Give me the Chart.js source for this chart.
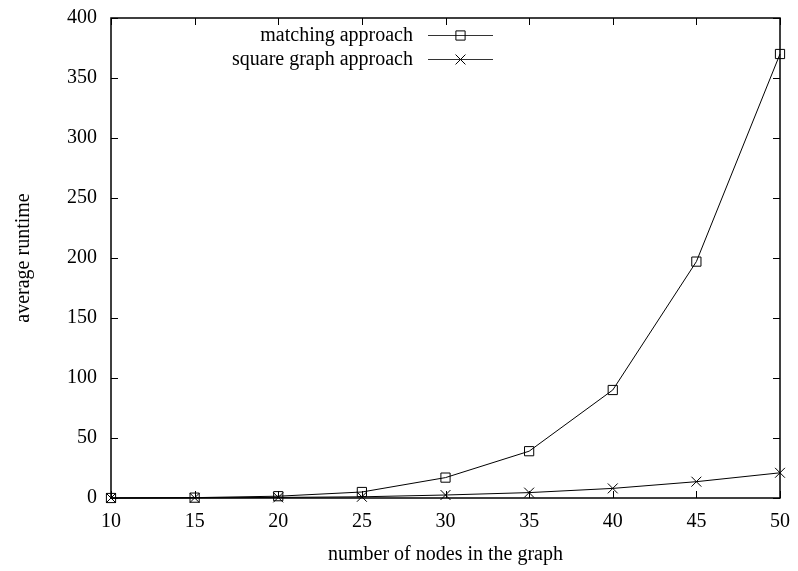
<!DOCTYPE html>
<html>
<head>
<meta charset="utf-8">
<script src="https://cdn.jsdelivr.net/npm/chart.js@4.4.0/dist/chart.umd.min.js"></script>
<style>
  html, body { margin: 0; padding: 0; background: #fff; }
  #wrap { width: 798px; height: 571px; }
</style>
</head>
<body>
<div id="wrap"><canvas id="myLineChart" width="798" height="571"></canvas></div>
<script>
// number of nodes in the graph
const nodes = [10, 15, 20, 25, 30, 35, 40, 45, 50];
// average runtime per approach
const matchingRuntime = [0, 0.3, 1.5, 5, 17, 39, 90, 197, 370];
const squareRuntime = [0, 0.1, 0.5, 1, 2.5, 4.5, 8, 13.6, 21];
const seriesLabels = ['matching approach', 'square graph approach'];

const FONT = '"Liberation Serif", "Times New Roman", serif';
const FONT_SIZE = 20;

const ctx = document.getElementById('myLineChart').getContext('2d');

// gnuplot style inward ticks on all four sides + frame
const frameTicks = {
    id: 'frameTicks',
    afterDatasetsDraw(chart) {
        const { ctx, chartArea: a, scales } = chart;
        const len = 7;
        ctx.save();
        ctx.strokeStyle = '#000';
        ctx.lineWidth = 1;
        ctx.beginPath();
        scales.x.ticks.forEach((t) => {
            const px = Math.round(scales.x.getPixelForValue(t.value)) + 0.5;
            ctx.moveTo(px, a.bottom); ctx.lineTo(px, a.bottom - len);
            ctx.moveTo(px, a.top); ctx.lineTo(px, a.top + len);
        });
        scales.y.ticks.forEach((t) => {
            const py = Math.round(scales.y.getPixelForValue(t.value)) + 0.5;
            ctx.moveTo(a.left, py); ctx.lineTo(a.left + len, py);
            ctx.moveTo(a.right, py); ctx.lineTo(a.right - len, py);
        });
        ctx.stroke();
        ctx.lineWidth = 1.5;
        ctx.strokeRect(a.left, a.top, a.right - a.left, a.bottom - a.top);
        ctx.restore();
    }
};

// legend inside the plot, text right-aligned before the sample line
const insideLegend = {
    id: 'insideLegend',
    afterDraw(chart) {
        const { ctx } = chart;
        const textRight = 413, lineStart = 428, lineEnd = 493, top = 35, rowGap = 24;
        ctx.save();
        ctx.font = FONT_SIZE + 'px ' + FONT;
        ctx.textAlign = 'right';
        ctx.textBaseline = 'middle';
        chart.data.datasets.forEach((ds, i) => {
            const y = top + i * rowGap;
            ctx.fillStyle = '#000';
            ctx.fillText(ds.label, textRight, y + 1);
            ctx.strokeStyle = '#333';
            ctx.lineWidth = 1;
            ctx.beginPath();
            ctx.moveTo(lineStart, y + 0.5);
            ctx.lineTo(lineEnd, y + 0.5);
            ctx.stroke();
            ctx.fillStyle = 'rgba(0,0,0,0)';
            ctx.strokeStyle = '#000';
            Chart.helpers.drawPoint(ctx, {
                pointStyle: ds.pointStyle,
                radius: ds.pointRadius,
                borderWidth: 1
            }, (lineStart + lineEnd) / 2, y + 0.5);
        });
        ctx.restore();
    }
};

new Chart(ctx, {
    type: 'line',
    data: {
        datasets: [
            {
                label: seriesLabels[0],
                data: nodes.map((n, i) => ({ x: n, y: matchingRuntime[i] })),
                borderColor: '#000',
                backgroundColor: 'rgba(0,0,0,0)',
                borderWidth: 1,
                pointStyle: 'rect',
                pointRadius: 6.5,
                pointBorderWidth: 1,
                pointBorderColor: '#000',
                pointBackgroundColor: 'rgba(0,0,0,0)',
                tension: 0,
                fill: false,
            },
            {
                label: seriesLabels[1],
                data: nodes.map((n, i) => ({ x: n, y: squareRuntime[i] })),
                borderColor: '#000',
                backgroundColor: 'rgba(0,0,0,0)',
                borderWidth: 1,
                pointStyle: 'crossRot',
                pointRadius: 7,
                pointBorderWidth: 1,
                pointBorderColor: '#000',
                tension: 0,
                fill: false,
            }
        ]
    },
    options: {
        responsive: false,
        animation: false,
        clip: false,
        layout: { padding: { top: 18, right: 18, left: 0, bottom: 0 } },
        plugins: {
            legend: { display: false },
            tooltip: { enabled: false },
        },
        scales: {
            x: {
                type: 'linear',
                min: 10,
                max: 50,
                ticks: {
                    stepSize: 5,
                    color: '#000',
                    padding: 12,
                    maxRotation: 0,
                    font: { family: FONT, size: FONT_SIZE },
                },
                grid: { display: false, drawTicks: false },
                border: { display: false },
                title: {
                    display: true,
                    text: 'number of nodes in the graph',
                    color: '#000',
                    font: { family: FONT, size: FONT_SIZE },
                    padding: { top: 18 },
                },
                afterFit(scale) {
                    scale.height = 73;
                    scale.paddingLeft = 0;
                    scale.paddingRight = 0;
                },
            },
            y: {
                min: 0,
                max: 400,
                ticks: {
                    stepSize: 50,
                    color: '#000',
                    padding: 14,
                    font: { family: FONT, size: FONT_SIZE },
                },
                grid: { display: false, drawTicks: false },
                border: { display: false },
                title: {
                    display: true,
                    text: 'average runtime',
                    color: '#000',
                    font: { family: FONT, size: FONT_SIZE },
                    padding: { top: 12, bottom: 0 },
                },
                afterFit(scale) {
                    scale.width = 111;
                    scale.paddingTop = 0;
                    scale.paddingBottom = 0;
                },
            }
        }
    },
    plugins: [frameTicks, insideLegend]
});
</script>
</body>
</html>
